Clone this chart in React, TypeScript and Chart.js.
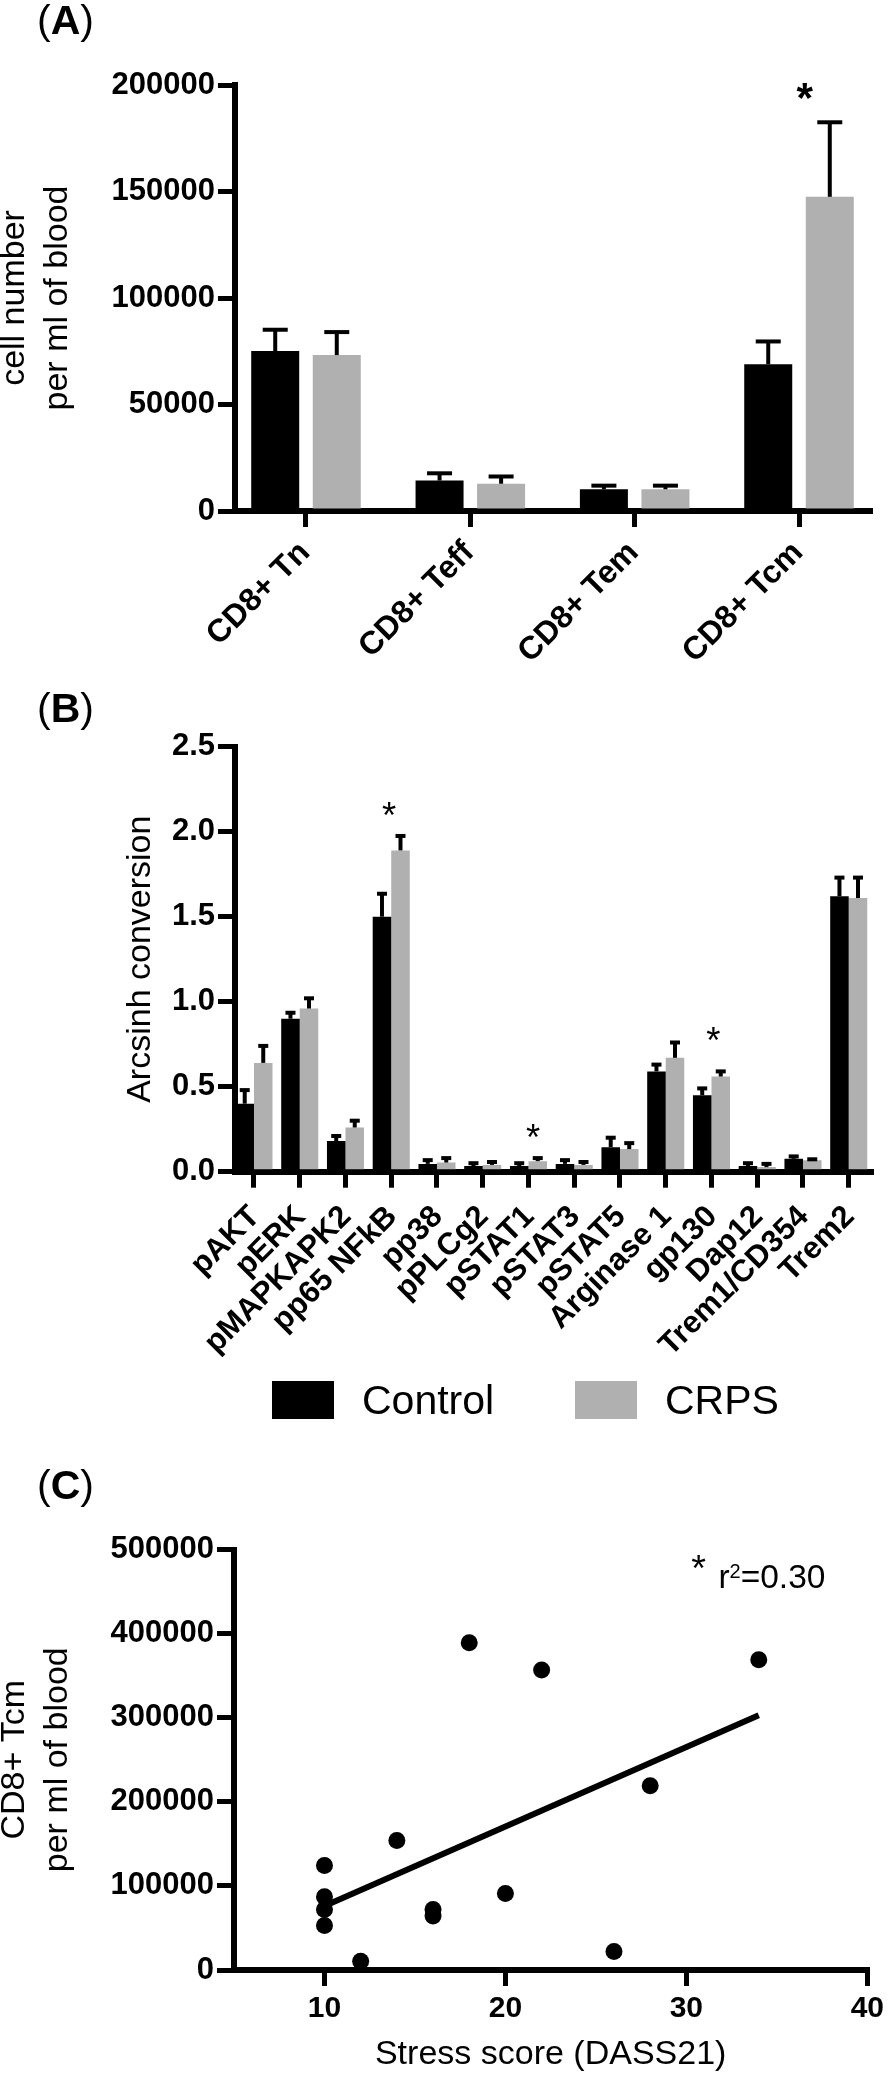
import React, { useEffect, useRef } from 'react';
import { Chart, registerables } from 'chart.js';

Chart.register(...registerables);

const FONT = "'Liberation Sans', Arial, Helvetica, sans-serif";
const GREY = '#b0b0b0';

// ---------- Panel A data ----------
const aCategories = ['CD8+ Tn', 'CD8+ Teff', 'CD8+ Tem', 'CD8+ Tcm'];
const aControl = [75100, 14300, 10200, 68900];
const aControlErr = [10000, 3400, 1700, 10700];
const aCrps = [73200, 12800, 10200, 147500];
const aCrpsErr = [10800, 3400, 1700, 35000];
const aYTicks = [0, 50000, 100000, 150000, 200000];
const aStarX = [3.037];
const aStarY = [197300];

// ---------- Panel B data ----------
const bCategories = [
  'pAKT', 'pERK', 'pMAPKAPK2', 'pp65 NFkB', 'pp38', 'pPLCg2', 'pSTAT1',
  'pSTAT3', 'pSTAT5', 'Arginase 1', 'gp130', 'Dap12', 'Trem1/CD354', 'Trem2',
];
const bControl = [0.40, 0.90, 0.18, 1.50, 0.046, 0.033, 0.033, 0.046, 0.144, 0.59, 0.45, 0.033, 0.076, 1.62];
const bControlErr = [0.08, 0.035, 0.03, 0.135, 0.022, 0.017, 0.017, 0.022, 0.056, 0.04, 0.04, 0.017, 0.014, 0.11];
const bCrps = [0.64, 0.96, 0.26, 1.89, 0.054, 0.04, 0.062, 0.04, 0.133, 0.67, 0.56, 0.027, 0.068, 1.61];
const bCrpsErr = [0.10, 0.06, 0.04, 0.085, 0.026, 0.017, 0.018, 0.017, 0.035, 0.09, 0.03, 0.019, 0.005, 0.12];
const bYTicks = [0, 0.5, 1.0, 1.5, 2.0, 2.5];
const bStarX = [2.95, 6.1, 10.04];
const bStarY = [2.135, 0.239, 0.812];
const legendLabels = ['Control', 'CRPS'];

// ---------- Panel C data ----------
const cStress = [18, 22, 34, 28, 14, 10, 10, 10, 10, 16, 16, 20, 12, 26];
const cTcm = [389000, 356600, 369000, 219000, 154000, 124200, 87200, 71900, 52900, 71900, 64200, 90900, 10300, 22100];
const cFitX = [10, 34];
const cFitY = [76000, 303000];
const cXTicks = [10, 20, 30, 40];
const cYTicks = [0, 100000, 200000, 300000, 400000, 500000];
const cStarX = [30.68];
const cStarY = [485400];
const cR2Parts = ['r', '2', '=0.30'];
const cR2Pos = { x: 31.77, y: 454000 };

// ---------- plugins ----------
const errorBarPlugin = {
  id: 'errorBars',
  afterDatasetsDraw(chart: any, _args: any, opts: any) {
    const ctx = chart.ctx;
    const ys = chart.scales.y;
    chart.data.datasets.forEach((ds: any, di: number) => {
      const errs = ds.errors;
      if (!errs) return;
      const meta = chart.getDatasetMeta(di);
      meta.data.forEach((el: any, i: number) => {
        const v = ds.data[i].y;
        const top = ys.getPixelForValue(v + errs[i]);
        const x = el.x;
        ctx.save();
        ctx.strokeStyle = '#000';
        ctx.lineWidth = opts.lineWidth;
        ctx.beginPath();
        ctx.moveTo(x, el.y);
        ctx.lineTo(x, top);
        ctx.stroke();
        ctx.lineWidth = opts.capThickness;
        ctx.beginPath();
        ctx.moveTo(x - opts.capWidth / 2, top);
        ctx.lineTo(x + opts.capWidth / 2, top);
        ctx.stroke();
        ctx.restore();
      });
    });
  },
};

const starPlugin = {
  id: 'stars',
  afterDraw(chart: any, _args: any, opts: any) {
    const xs0: number[] = opts.xs || [];
    const ys0: number[] = opts.ys || [];
    const ctx = chart.ctx;
    ctx.save();
    ctx.font = `${opts.weight} 100px ${FONT}`;
    const m100 = ctx.measureText('*');
    const w100 = m100.actualBoundingBoxLeft + m100.actualBoundingBoxRight;
    const size = (100 * opts.glyphWidth) / w100;
    ctx.font = `${opts.weight} ${size}px ${FONT}`;
    ctx.textAlign = 'left';
    ctx.textBaseline = 'alphabetic';
    ctx.fillStyle = '#000';
    const m = ctx.measureText('*');
    xs0.forEach((xv, i) => {
      const px = chart.scales.x.getPixelForValue(xv);
      const py = chart.scales.y.getPixelForValue(ys0[i]);
      const x = px - (m.actualBoundingBoxRight - m.actualBoundingBoxLeft) / 2;
      const y = py + (m.actualBoundingBoxAscent - m.actualBoundingBoxDescent) / 2;
      ctx.fillText('*', x, y);
    });
    ctx.restore();
  },
};

const r2Plugin = {
  id: 'r2text',
  afterDraw(chart: any, _args: any, opts: any) {
    if (!opts.parts) return;
    const ctx = chart.ctx;
    const x0 = chart.scales.x.getPixelForValue(opts.x);
    const y0 = chart.scales.y.getPixelForValue(opts.y);
    ctx.save();
    ctx.fillStyle = '#000';
    ctx.textAlign = 'left';
    ctx.textBaseline = 'alphabetic';
    ctx.font = `${opts.size}px ${FONT}`;
    ctx.fillText(opts.parts[0], x0, y0);
    let x = x0 + ctx.measureText(opts.parts[0]).width;
    ctx.font = `${opts.supSize}px ${FONT}`;
    ctx.fillText(opts.parts[1], x, y0 - opts.supRise);
    x += ctx.measureText(opts.parts[1]).width;
    ctx.font = `${opts.size}px ${FONT}`;
    ctx.fillText(opts.parts[2], x, y0);
    ctx.restore();
  },
};

// ---------- shared axis styling ----------
const tickFont = { family: FONT, size: 31, weight: 'bold' as const };
const titleFont = { family: FONT, size: 34, weight: 'normal' as const };

function axisGrid(tickLength: number) {
  return {
    display: true,
    drawOnChartArea: false,
    drawTicks: true,
    offset: false,
    tickLength,
    lineWidth: 5,
    color: '#000',
  };
}
const axisBorder = { display: true, width: 6, color: '#000' };

function barConfig(p: any) {
  return {
    type: 'bar',
    data: {
      datasets: [
        {
          label: legendLabels[0],
          data: p.control.map((v: number, i: number) => ({ x: i, y: v })),
          backgroundColor: '#000',
          errors: p.controlErr,
          categoryPercentage: p.cp,
          barPercentage: p.bp,
          borderWidth: 0,
        },
        {
          label: legendLabels[1],
          data: p.crps.map((v: number, i: number) => ({ x: i, y: v })),
          backgroundColor: GREY,
          errors: p.crpsErr,
          categoryPercentage: p.cp,
          barPercentage: p.bp,
          borderWidth: 0,
        },
      ],
    },
    options: {
      animation: false,
      responsive: false,
      devicePixelRatio: 1,
      events: [],
      layout: { padding: { top: p.padTop, right: p.padRight, bottom: 0, left: 0 } },
      plugins: {
        legend: { display: false },
        tooltip: { enabled: false },
        errorBars: p.err,
        stars: { xs: p.starX, ys: p.starY, glyphWidth: p.starW, weight: p.starWeight },
      },
      scales: {
        x: {
          type: 'linear',
          min: p.xMin,
          max: p.xMax,
          offset: false,
          z: 1,
          grid: axisGrid(16),
          border: axisBorder,
          ticks: {
            autoSkip: false,
            minRotation: 45,
            maxRotation: 45,
            labelOffset: p.labelOffset,
            padding: p.labelPad,
            color: '#000',
            font: { family: FONT, size: p.catSize, weight: 'bold' },
            callback: (v: number) => p.cats[v] ?? '',
          },
          afterBuildTicks: (s: any) => {
            s.ticks = p.cats.map((_: string, i: number) => ({ value: i }));
          },
          afterFit: (s: any) => {
            s.height = p.xHeight;
          },
        },
        y: {
          min: 0,
          max: p.yTicks[p.yTicks.length - 1],
          z: 1,
          grid: axisGrid(17),
          border: axisBorder,
          ticks: {
            padding: 3,
            color: '#000',
            font: tickFont,
            callback: p.yFormat,
          },
          afterBuildTicks: (s: any) => {
            s.ticks = p.yTicks.map((v: number) => ({ value: v }));
          },
          afterFit: (s: any) => {
            s.width = p.yWidth;
          },
          title: {
            display: true,
            text: p.yTitle,
            color: '#000',
            font: { ...titleFont, lineHeight: p.titleLH },
            padding: { top: p.titlePad, bottom: 0 },
          },
        },
      },
    },
    plugins: [errorBarPlugin, starPlugin],
  };
}

function configA() {
  return barConfig({
    cats: aCategories,
    control: aControl,
    controlErr: aControlErr,
    crps: aCrps,
    crpsErr: aCrpsErr,
    cp: 0.749,
    bp: 0.78,
    xMin: -0.432,
    xMax: 3.432,
    padTop: 85,
    padRight: 19,
    xHeight: 179,
    yWidth: 235,
    yTicks: aYTicks,
    yFormat: (v: number) => String(v),
    yTitle: ['cell number', 'per ml of blood'],
    titleLH: 1.27,
    titlePad: -6.7,
    catSize: 32,
    labelOffset: -1,
    labelPad: 7,
    err: { lineWidth: 4, capThickness: 4, capWidth: 25 },
    starX: aStarX,
    starY: aStarY,
    starW: 16.5,
    starWeight: 'bold',
  });
}

function configB() {
  return barConfig({
    cats: bCategories,
    control: bControl,
    controlErr: bControlErr,
    crps: bCrps,
    crpsErr: bCrpsErr,
    cp: 0.81,
    bp: 1.0,
    xMin: -0.415,
    xMax: 13.5,
    padTop: 56.7,
    padRight: 17.4,
    xHeight: 198.3,
    yWidth: 235,
    yTicks: bYTicks,
    yFormat: (v: number) => v.toFixed(1),
    yTitle: 'Arcsinh conversion',
    titleLH: 1.2,
    titlePad: 120.6,
    catSize: 31,
    labelOffset: 1,
    labelPad: 11,
    err: { lineWidth: 4, capThickness: 4, capWidth: 10 },
    starX: bStarX,
    starY: bStarY,
    starW: 13.5,
    starWeight: 'normal',
  });
}

function configC() {
  return {
    type: 'scatter',
    data: {
      datasets: [
        {
          label: 'CD8+ Tcm',
          data: cStress.map((x, i) => ({ x, y: cTcm[i] })),
          backgroundColor: '#000',
          borderWidth: 0,
          pointRadius: 8.5,
          clip: false,
        },
        {
          type: 'line',
          label: 'fit',
          data: cFitX.map((x, i) => ({ x, y: cFitY[i] })),
          borderColor: '#000',
          borderWidth: 6,
          pointRadius: 0,
          fill: false,
          showLine: true,
          clip: false,
        },
      ],
    },
    options: {
      animation: false,
      responsive: false,
      devicePixelRatio: 1,
      events: [],
      layout: { padding: { top: 179.5, right: 17, bottom: 0, left: 0 } },
      plugins: {
        legend: { display: false },
        tooltip: { enabled: false },
        stars: { xs: cStarX, ys: cStarY, glyphWidth: 14, weight: 'normal' },
        r2text: { parts: cR2Parts, x: cR2Pos.x, y: cR2Pos.y, size: 33.5, supSize: 20, supRise: 10 },
      },
      scales: {
        x: {
          type: 'linear',
          min: 5,
          max: 40,
          offset: false,
          z: 1,
          grid: axisGrid(16),
          border: axisBorder,
          ticks: { padding: 5, color: '#000', font: { ...tickFont, size: 30 }, callback: (v: number) => String(v) },
          afterBuildTicks: (s: any) => {
            s.ticks = cXTicks.map((v) => ({ value: v }));
          },
          afterFit: (s: any) => {
            s.height = 107;
          },
          title: {
            display: true,
            text: 'Stress score (DASS21)',
            color: '#000',
            font: { ...titleFont, lineHeight: 1.2 },
            padding: { top: 0, bottom: 1.5 },
          },
        },
        y: {
          min: 0,
          max: 500000,
          z: 1,
          grid: axisGrid(17),
          border: axisBorder,
          ticks: { padding: 3, color: '#000', font: tickFont, callback: (v: number) => String(v) },
          afterBuildTicks: (s: any) => {
            s.ticks = cYTicks.map((v) => ({ value: v }));
          },
          afterFit: (s: any) => {
            s.width = 234;
          },
          title: {
            display: true,
            text: ['CD8+ Tcm', 'per ml of blood'],
            color: '#000',
            font: { ...titleFont, lineHeight: 1.27 },
            padding: { top: -6.7, bottom: 0 },
          },
        },
      },
    },
    plugins: [starPlugin, r2Plugin],
  };
}

function PanelLabel({ letter, top }: { letter: string; top: number }) {
  return (
    <div
      style={{
        position: 'absolute',
        left: 37,
        top,
        fontSize: 41,
        lineHeight: '41px',
        fontFamily: FONT,
        whiteSpace: 'nowrap',
      }}
    >
      <span style={{ fontWeight: 'normal' }}>(</span>
      <span style={{ fontWeight: 'bold' }}>{letter}</span>
      <span style={{ fontWeight: 'normal' }}>)</span>
    </div>
  );
}

export default function App() {
  const aRef = useRef<HTMLCanvasElement>(null);
  const bRef = useRef<HTMLCanvasElement>(null);
  const cRef = useRef<HTMLCanvasElement>(null);

  useEffect(() => {
    const charts = [
      new Chart(aRef.current as HTMLCanvasElement, configA() as any),
      new Chart(bRef.current as HTMLCanvasElement, configB() as any),
      new Chart(cRef.current as HTMLCanvasElement, configC() as any),
    ];
    return () => charts.forEach((c) => c.destroy());
  }, []);

  const legendText = {
    position: 'absolute' as const,
    top: 1380,
    fontSize: 41,
    lineHeight: '41px',
    fontFamily: FONT,
    whiteSpace: 'nowrap' as const,
  };

  return (
    <div
      style={{
        position: 'absolute',
        left: 0,
        top: 0,
        width: 889,
        height: 2077,
        overflow: 'hidden',
        background: '#fff',
        color: '#000',
        fontFamily: FONT,
      }}
    >
      <canvas ref={aRef} width={889} height={690} style={{ position: 'absolute', left: 0, top: 0 }} />
      <canvas ref={bRef} width={889} height={680} style={{ position: 'absolute', left: 0, top: 690 }} />
      <canvas ref={cRef} width={889} height={707} style={{ position: 'absolute', left: 0, top: 1370 }} />
      <PanelLabel letter="A" top={0.3} />
      <PanelLabel letter="B" top={688.3} />
      <PanelLabel letter="C" top={1465.3} />
      <div style={{ position: 'absolute', left: 272, top: 1381, width: 62, height: 38, background: '#000' }} />
      <div style={{ ...legendText, left: 362 }}>{legendLabels[0]}</div>
      <div style={{ position: 'absolute', left: 575, top: 1381, width: 62, height: 38, background: GREY }} />
      <div style={{ ...legendText, left: 665 }}>{legendLabels[1]}</div>
    </div>
  );
}
